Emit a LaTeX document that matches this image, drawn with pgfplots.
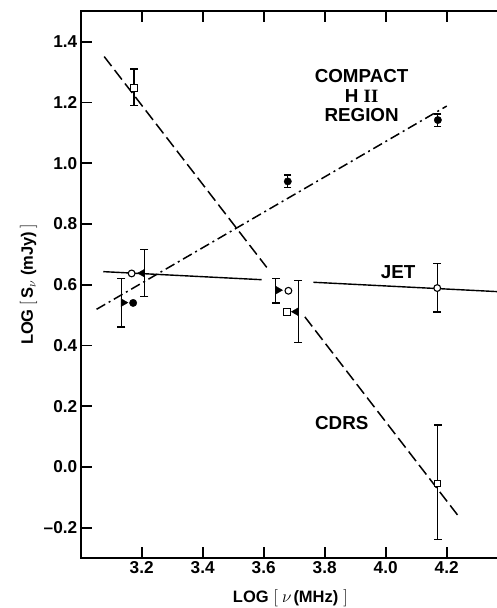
\documentclass[border=0pt]{standalone}
\usepackage{fontspec}
\setmainfont{Liberation Sans}
\newfontfamily\serifbf{Liberation Serif}
\usepackage{pgfplots}
\pgfplotsset{compat=1.18}
\begin{document}
\begin{tikzpicture}
\begin{axis}[
  at={(0,0)}, anchor=south west,
  scale only axis, width=427pt, height=546.8pt,
  xmin=3.0, xmax=4.4, ymin=-0.3, ymax=1.5,
  xtick={3.2,3.4,3.6,3.8,4.0,4.2},
  xticklabels={3.2,3.4,3.6,3.8,4.0,4.2},
  ytick={-0.2,0,0.2,0.4,0.6,0.8,1.0,1.2,1.4},
  yticklabels={--0.2,0.0,0.2,0.4,0.6,0.8,1.0,1.2,1.4},
  tick align=inside, major tick length=11pt,
  tick style={line width=1.7pt, black},
  axis line style={line width=1.8pt},
  ticklabel style={font=\fontsize{17.2}{19}\selectfont\bfseries},
  xlabel={\bfseries LOG\hspace{5pt}$\big[$\hspace{4pt}$\nu$\hspace{2pt}(MHz)\hspace{5pt}$\big]$},
  ylabel={\bfseries LOG\hspace{4pt}$\big[$\hspace{2pt}S$_{\nu}$\hspace{5pt}(mJy)\hspace{3pt}$\big]$},
  every axis x label/.style={at={(axis description cs:0.491,-0.0732)}, anchor=center, font=\fontsize{16.5}{19}\selectfont},
  every axis y label/.style={at={(axis description cs:-0.122,0.5)}, anchor=center, rotate=90, font=\fontsize{16.5}{19}\selectfont},
]
% JET (solid)
\addplot[black, line width=1.4pt] coordinates {(3.074,0.643) (3.593,0.6165)};
\addplot[black, line width=1.4pt] coordinates {(3.763,0.608) (4.37,0.577)};
% CDRS (long dashed)
\addplot[black, line width=1.5pt, dash pattern=on 12pt off 5pt] coordinates {(3.077,1.351) (3.61,0.657)};
\addplot[black, line width=1.5pt, dash pattern=on 12pt off 5pt] coordinates {(3.735,0.494) (4.244,-0.169)};
% Compact HII (dash-dot)
\addplot[black, line width=1.5pt, dash pattern=on 10pt off 4pt on 2pt off 4pt] coordinates {(3.052,0.519) (4.2,1.188)};
% error bars
\addplot[black, line width=1.2pt, mark=-, mark size=4pt] coordinates {(3.175,1.19) (3.175,1.31)};
\addplot[black, line width=1.2pt, mark=-, mark size=4pt] coordinates {(4.17,-0.24) (4.17,0.138)};
\addplot[black, line width=1.2pt, mark=-, mark size=4pt] coordinates {(4.169,0.51) (4.169,0.67)};
\addplot[black, line width=1.2pt, mark=-, mark size=3.5pt] coordinates {(3.679,0.919) (3.679,0.961)};
\addplot[black, line width=1.2pt, mark=-, mark size=3.5pt] coordinates {(4.171,1.12) (4.171,1.162)};
\addplot[black, line width=1.2pt, mark=-, mark size=4pt] coordinates {(3.133,0.461) (3.133,0.621)};
\addplot[black, line width=1.2pt, mark=-, mark size=4pt] coordinates {(3.209,0.56) (3.209,0.717)};
\addplot[black, line width=1.2pt, mark=-, mark size=4pt] coordinates {(3.640,0.54) (3.640,0.62)};
\addplot[black, line width=1.2pt, mark=-, mark size=4pt] coordinates {(3.713,0.41) (3.713,0.613)};
% triangles pointing right
\addplot[only marks, mark=triangle*, mark size=4.5pt, mark options={rotate=-90, fill=black, draw=black}] coordinates {(3.140,0.541) (3.647,0.582)};
% triangles pointing left
\addplot[only marks, mark=triangle*, mark size=4.5pt, mark options={rotate=90, fill=black, draw=black}] coordinates {(3.2016,0.638) (3.7056,0.511)};
% JET open circles
\addplot[only marks, mark=*, mark size=3.4pt, mark options={fill=white, draw=black, line width=1.1pt}] coordinates {(3.167,0.637) (3.681,0.58) (4.169,0.589)};
% CDRS open squares
\addplot[only marks, mark=square*, mark size=3.3pt, mark options={fill=white, draw=black, line width=1.1pt}] coordinates {(3.175,1.248) (3.677,0.51) (4.17,-0.054)};
% Compact HII filled circles
\addplot[only marks, mark=*, mark size=3.7pt, mark options={fill=black, draw=black}] coordinates {(3.172,0.54) (3.679,0.94) (4.171,1.142)};
% labels
\node[align=center, font=\fontsize{18.8}{19.4}\selectfont\bfseries] at (axis cs:3.921,1.222) {COMPACT\\H {\serifbf II}\\REGION};
\node[font=\fontsize{18.8}{19.4}\selectfont\bfseries] at (axis cs:4.041,0.643) {JET};
\node[font=\fontsize{18.8}{19.4}\selectfont\bfseries] at (axis cs:3.856,0.1445) {CDRS};
\end{axis}
\pgfresetboundingbox
\path (-80.7pt,-49.9pt) rectangle (416.3pt,558.1pt);
\end{tikzpicture}
\end{document}
